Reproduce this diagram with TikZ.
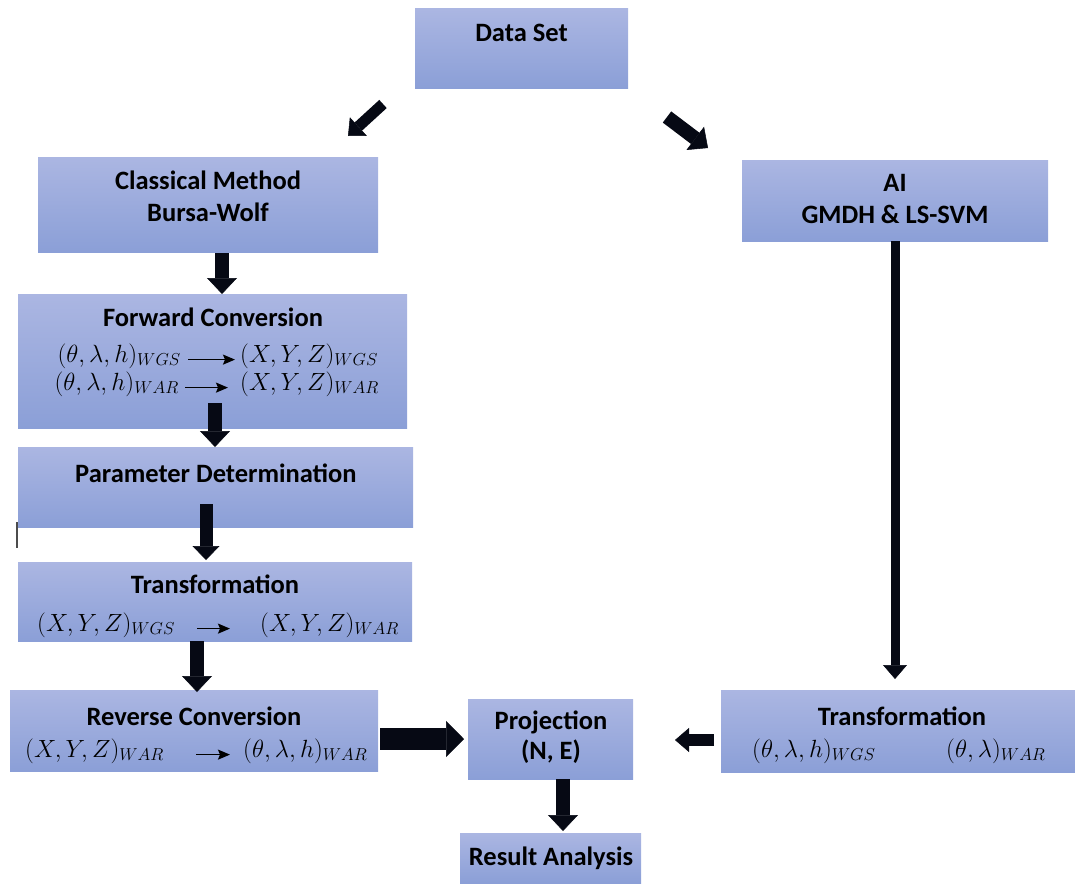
\documentclass[tikz,border=0pt]{standalone}
\usepackage{fontspec}
\setmainfont{Carlito}
\usetikzlibrary{arrows.meta}
\DeclareMathSizes{27.5}{27.5}{18}{13}
\definecolor{boxtop}{RGB}{171,182,226}
\definecolor{boxbot}{RGB}{139,159,215}
\definecolor{arrowc}{RGB}{6,9,20}
\begin{document}
\begin{tikzpicture}[x=1pt,y=-1pt,
  box/.style={rectangle, top color=boxtop, bottom color=boxbot, draw=none, inner sep=0pt},
  ttl/.style={font=\bfseries\fontsize{26.5}{32}\selectfont, inner sep=0pt, align=center},
  mth/.style={font=\fontsize{27.5}{30}\selectfont, inner sep=0pt},
  barrow/.style args={#1/#2/#3}{draw=arrowc, line width=#1,
     -{Triangle[width=#2,length=#3,line width=0.5pt]}},
  smallarr/.style={draw=black, line width=1.5pt, -{Stealth[length=12pt,width=10pt,inset=2pt]}}
]
\useasboundingbox (0,0) rectangle (1075,883);

% boxes
\node[box, minimum width=213pt, minimum height=79pt] (ds) at (521.5,48.5) {};
\node[box, minimum width=340pt, minimum height=95pt] (cm) at (208,204.5) {};
\node[box, minimum width=306pt, minimum height=81pt] (ai) at (895,200.5) {};
\node[box, minimum width=389pt, minimum height=134pt] (fc) at (212.5,361) {};
\node[box, minimum width=395pt, minimum height=80pt] (pd) at (215.5,487) {};
\node[box, minimum width=394pt, minimum height=79pt] (tl) at (215,601.5) {};
\node[box, minimum width=368pt, minimum height=81pt] (rc) at (194,730.5) {};
\node[box, minimum width=165pt, minimum height=80pt] (pr) at (550.5,739) {};
\node[box, minimum width=354pt, minimum height=82pt] (tr) at (898,731) {};
\node[box, minimum width=181pt, minimum height=50pt] (ra) at (550.5,858) {};

% titles
\node[ttl] (dst) at (521.5,33) {Data Set};
\node[ttl] (cmt) at (208,196) {Classical Method\\Bursa-Wolf};
\node[ttl] (ait) at (895,199) {AI\\GMDH \& LS-SVM};
\node[ttl] (fct) at (213,317) {Forward Conversion};
\node[ttl] (pdt) at (216,473) {Parameter Determination};
\node[ttl] (tlt) at (215,584) {Transformation};
\node[ttl] (rct) at (194,716) {Reverse Conversion};
\node[ttl, font=\bfseries\fontsize{26.5}{30}\selectfont] (prt) at (551,737) {Projection\\(N, E)};
\node[ttl] (trt) at (902,716) {Transformation};
\node[ttl] (rat) at (551,858) {Result Analysis};

% math
\node[mth, anchor=base east] (fcL1) at (181,362) {$(\theta,\lambda,h)_{WGS}$};
\node[mth, anchor=base west] (fcR1) at (240,362) {$(X,Y,Z)_{WGS}$};
\node[mth, anchor=base east] (fcL2) at (179,390) {$(\theta,\lambda,h)_{WAR}$};
\node[mth, anchor=base west] (fcR2) at (240,390) {$(X,Y,Z)_{WAR}$};
\node[mth, anchor=base west] (tlL) at (37,631) {$(X,Y,Z)_{WGS}$};
\node[mth, anchor=base west] (tlR) at (260,631) {$(X,Y,Z)_{WAR}$};
\node[mth, anchor=base west] (rcL) at (25,757) {$(X,Y,Z)_{WAR}$};
\node[mth, anchor=base west] (rcR) at (243,757) {$(\theta,\lambda,h)_{WAR}$};
\node[mth, anchor=base west] (trL) at (752,757) {$(\theta,\lambda,h)_{WGS}$};
\node[mth, anchor=base west] (trR) at (946,757) {$(\theta,\lambda)_{WAR}$};

\draw[smallarr, shorten <=7pt, shorten >=5pt] (fcL1.mid east) -- (fcR1.mid west);
\draw[smallarr, shorten <=6pt, shorten >=12pt] (fcL2.mid east) -- (fcR2.mid west);
\draw[smallarr, shorten <=22pt, shorten >=30pt] (tlL.mid east) -- (tlR.mid west);
\draw[smallarr, shorten <=32pt, shorten >=13pt] (rcL.mid east) -- (rcR.mid west);

% block arrow endpoints
\coordinate (a1s) at (383,104);  \coordinate (a1e) at (348,136);
\coordinate (a2s) at (667,117);  \coordinate (a2e) at (708,148);
\coordinate (a3s) at (222,253);  \coordinate (a3e) at (222,294);
\coordinate (a4s) at (215,403);  \coordinate (a4e) at (215,447);
\coordinate (a5s) at (206,504);  \coordinate (a5e) at (206,560);
\coordinate (a6s) at (197,641);  \coordinate (a6e) at (197,692);
\coordinate (a7s) at (380,739);  \coordinate (a7e) at (464,739);
\coordinate (a8s) at (714,740);  \coordinate (a8e) at (675,740);
\coordinate (a9s) at (895,241);  \coordinate (a9e) at (895,679);
\coordinate (a10s) at (563,779); \coordinate (a10e) at (563,831);

\draw[barrow=11pt/25pt/14pt] (a1s) -- (a1e);
\draw[barrow=14pt/29pt/16pt] (a2s) -- (a2e);
\draw[barrow=14pt/30pt/16pt] (a3s) -- (a3e);
\draw[barrow=14pt/30pt/16pt] (a4s) -- (a4e);
\draw[barrow=13pt/27pt/14pt] (a5s) -- (a5e);
\draw[barrow=14pt/30pt/16pt] (a6s) -- (a6e);
\draw[barrow=22pt/36pt/18pt] (a7s) -- (a7e);
\draw[barrow=12pt/24pt/14pt] (a8s) -- (a8e);
\draw[barrow=9pt/24pt/14pt] (a9s) -- (a9e);
\draw[barrow=14pt/30pt/16pt] (a10s) -- (a10e);

% cursor mark
\draw[black!70, line width=1.2pt] (17,522) -- (17,548);
\end{tikzpicture}
\end{document}
